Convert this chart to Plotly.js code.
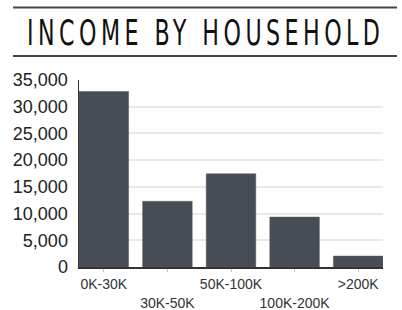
<!DOCTYPE html>
<html>
<head>
<meta charset="utf-8">
<script src="https://cdn.plot.ly/plotly-3.0.1.min.js"></script>
<style>
html,body{margin:0;padding:0;background:#fff;}
#chart{width:402px;height:310px;}
.gtitle{letter-spacing:4px;}
</style>
</head>
<body>
<div id="chart"></div>
<script>
var categories = ['0K-30K', '30K-50K', '50K-100K', '100K-200K', '>200K'];
var households = [32850, 12300, 17450, 9350, 2050];
var tickLabels = ['0K-30K', '<br>30K-50K', '50K-100K', '<br>100K-200K', '>200K'];
var yTicks = [0, 5000, 10000, 15000, 20000, 25000, 30000, 35000];
var titleText = 'INCOME BY HOUSEHOLD';

var trace = {
  type: 'bar',
  x: categories,
  y: households,
  marker: {color: '#474d57', line: {color: '#5a606a', width: 0.5}},
  hoverinfo: 'none'
};

var layout = {
  width: 402,
  height: 310,
  margin: {l: 79, r: 19, t: 80, b: 43, pad: 0},
  paper_bgcolor: '#fff',
  plot_bgcolor: '#fff',
  bargap: 0.22,
  showlegend: false,
  title: {
    text: titleText,
    font: {family: 'DejaVu Sans, sans-serif', size: 20, color: '#111'},
    xref: 'container', yref: 'container',
    x: 0.506, y: 0.893, xanchor: 'center', yanchor: 'middle'
  },
  xaxis: {
    type: 'category',
    range: [-0.39, 4.39],
    tickmode: 'array',
    tickvals: categories,
    ticktext: tickLabels,
    tickangle: 0,
    ticks: 'outside',
    ticklen: 3,
    tickwidth: 1,
    tickcolor: '#c8c8c8',
    showline: true,
    linecolor: '#333',
    linewidth: 1.5,
    showgrid: false,
    zeroline: false,
    ticklabelstandoff: 1,
    tickfont: {family: 'Liberation Sans, Arial, sans-serif', size: 14, color: '#333'},
    fixedrange: true
  },
  yaxis: {
    range: [0, 35000],
    tickmode: 'array',
    tickvals: yTicks,
    ticktext: yTicks.map(function(v){ return v.toLocaleString('en-US'); }),
    ticks: '',
    showline: true,
    linecolor: '#333',
    linewidth: 1.5,
    showgrid: true,
    gridcolor: '#e8e8e8',
    gridwidth: 2,
    zeroline: false,
    ticklabelstandoff: 6,
    tickfont: {family: 'Liberation Sans, Arial, sans-serif', size: 18, color: '#222'},
    fixedrange: true
  },
  shapes: [
    {type: 'line', xref: 'paper', yref: 'paper', x0: -0.217, x1: 1.046, y0: 1.388, y1: 1.388, line: {color: '#444', width: 2}},
    {type: 'line', xref: 'paper', yref: 'paper', x0: -0.217, x1: 1.046, y0: 1.128, y1: 1.128, line: {color: '#444', width: 2}}
  ]
};

Plotly.newPlot('chart', [trace], layout, {displayModeBar: false, staticPlot: true}).then(function(gd){
  var t = gd.querySelector('.gtitle');
  if (t) {
    var b = t.getBBox();
    var w = b.width - 4; // drop trailing letter spacing
    var cx = b.x + w / 2;
    var cy = b.y + b.height / 2;
    var sx = 353 / w;
    var sy = 1.78;
    t.setAttribute('transform',
      'translate(203.5,32.5) scale(' + sx + ',' + sy + ') translate(' + (-cx) + ',' + (-cy) + ')');
  }
});
</script>
</body>
</html>
